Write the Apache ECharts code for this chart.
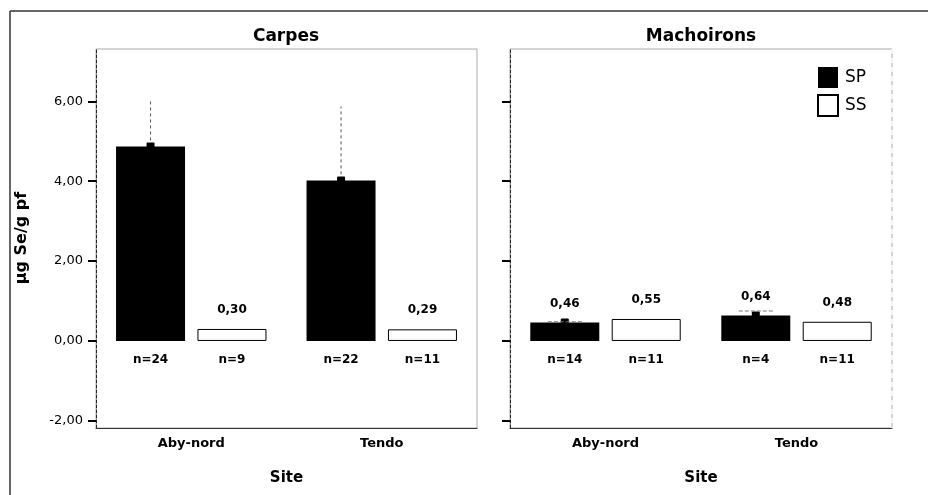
<!DOCTYPE html>
<html><head><meta charset="utf-8">
<script src="https://cdn.jsdelivr.net/npm/echarts@6/dist/echarts.min.js"></script>
<style>html,body{margin:0;padding:0;background:#fff}#c{width:928px;height:495px}</style>
</head><body><div id="c"></div>
<script>
const categories = ['Aby-nord', 'Tendo'];
const panelTitles = ['Carpes', 'Machoirons'];
const seriesNames = ['SP', 'SS'];
const carpesSP = [4.87, 4.02];
const carpesSS = [0.30, 0.29];
const machoironsSP = [0.46, 0.64];
const machoironsSS = [0.55, 0.48];
const carpesSPUpper = [6.05, 5.87];
const machoironsSPUpper = [0.48, 0.75];
const carpesSPn = [24, 22];
const carpesSSn = [9, 11];
const machoironsSPn = [14, 4];
const machoironsSSn = [11, 11];
const yTicks = [-2, 0, 2, 4, 6];
const yName = 'µg Se/g pf';
const xName = 'Site';

const FONT = 'DejaVu Sans';
const BAR_W = 69, GAP = 12.4;
const OFF = (BAR_W + GAP) / 2;
const fmt = v => v.toFixed(2).replace('.', ',');

const chart = echarts.init(document.getElementById('c'), null, {renderer: 'canvas'});

function grid(left, width) {
  return {left: left, top: 49, width: width, height: 379, show: true, borderColor: '#aaa', borderWidth: 1, backgroundColor: 'transparent'};
}
function xAxis(gi) {
  return {
    type: 'category', gridIndex: gi, data: categories,
    name: xName, nameLocation: 'middle', nameGap: 43,
    nameTextStyle: {fontFamily: FONT, fontSize: 15, fontWeight: 'bold', color: '#000'},
    axisLine: {onZero: false, lineStyle: {color: '#333', width: 1}},
    axisTick: {alignWithLabel: true, length: 5, lineStyle: {color: '#000', width: 3}},
    axisLabel: {fontFamily: FONT, fontSize: 13, fontWeight: 'bold', color: '#000', margin: 9},
    splitLine: {show: false}
  };
}
function yAxis(gi, showLabels) {
  return {
    type: 'value', gridIndex: gi, min: -2.18, max: 7.31,
    axisLine: {show: true, lineStyle: {color: '#222', width: 1, type: [3, 2]}},
    axisTick: {show: true, length: 8, customValues: yTicks, lineStyle: {color: '#000', width: 2}},
    axisLabel: {show: showLabels, customValues: yTicks, formatter: fmt, fontFamily: FONT, fontSize: 13, color: '#000', margin: 13},
    splitLine: {show: false}
  };
}
function barSeries(name, gi, data, showLabel) {
  const isSP = name === 'SP';
  return {
    type: 'bar', name: name, xAxisIndex: gi, yAxisIndex: gi, data: data,
    barWidth: BAR_W, barGap: '18%',
    itemStyle: isSP ? {color: '#000'} : {color: '#fff', borderColor: '#000', borderWidth: 1},
    label: {show: showLabel, position: 'top', distance: 13, formatter: p => fmt(p.value),
      fontFamily: FONT, fontSize: 12, fontWeight: 'bold', color: '#000'},
    emphasis: {disabled: true}, animation: false
  };
}
function nSeries(gi, counts, off) {
  return {
    type: 'custom', xAxisIndex: gi, yAxisIndex: gi, silent: true, animation: false,
    data: counts.map((n, i) => [i, n]),
    renderItem: (params, api) => {
      const p = api.coord([api.value(0), 0]);
      return {type: 'text', style: {x: p[0] + off, y: p[1] + 19, text: 'n=' + api.value(1),
        align: 'center', verticalAlign: 'middle', font: 'bold 12px "DejaVu Sans"', fill: '#000'}};
    }
  };
}
function errSeries(gi, means, uppers, off, capW) {
  return {
    type: 'custom', xAxisIndex: gi, yAxisIndex: gi, silent: true, animation: false, z: 5,
    data: means.map((m, i) => [i, m, uppers[i]]),
    renderItem: (params, api) => {
      const m = api.coord([api.value(0), api.value(1)]);
      const u = api.coord([api.value(0), api.value(2)]);
      const x = m[0] + off;
      const children = [
        {type: 'line', shape: {x1: x, y1: m[1], x2: x, y2: u[1]}, style: {stroke: '#555', lineWidth: 1, lineDash: [3, 3]}},
        {type: 'rect', shape: {x: x - 4, y: m[1] - 4, width: 8, height: 5, r: 1}, style: {fill: '#000'}}
      ];
      if (capW > 0) children.push({type: 'line', shape: {x1: x - capW / 2, y1: u[1], x2: x + capW / 2, y2: u[1]}, style: {stroke: '#777', lineWidth: 1, lineDash: [4, 2]}});
      return {type: 'group', children: children};
    }
  };
}

const option = {
  backgroundColor: '#fff',
  animation: false,
  textStyle: {fontFamily: FONT},
  grid: [grid(96, 381), grid(510, 382)],
  xAxis: [xAxis(0), xAxis(1)],
  yAxis: [yAxis(0, true), yAxis(1, false)],
  legend: {
    data: seriesNames, orient: 'vertical', left: 817, top: 67, padding: 0,
    itemWidth: 20, itemHeight: 21, itemGap: 6, icon: 'rect', selectedMode: false,
    textStyle: {fontFamily: FONT, fontSize: 17, color: '#000', padding: [0, 0, 0, 2]}
  },
  graphic: [
    {type: 'line', shape: {x1: 10, y1: 11, x2: 928, y2: 11}, style: {stroke: '#333', lineWidth: 1.5}, silent: true},
    {type: 'line', shape: {x1: 10, y1: 11, x2: 10, y2: 495}, style: {stroke: '#333', lineWidth: 1.5}, silent: true},
    {type: 'line', shape: {x1: 892, y1: 49, x2: 892, y2: 428}, style: {stroke: '#fff', lineWidth: 1.5, lineDash: [5, 4]}, silent: true, z: 100},
    {type: 'text', x: 286, y: 37, style: {text: panelTitles[0], align: 'center', verticalAlign: 'middle', font: 'bold 17px "DejaVu Sans"', fill: '#000'}, silent: true},
    {type: 'text', x: 701, y: 37, style: {text: panelTitles[1], align: 'center', verticalAlign: 'middle', font: 'bold 17px "DejaVu Sans"', fill: '#000'}, silent: true},
    {type: 'text', x: 22, y: 238, rotation: Math.PI / 2, style: {text: yName, align: 'center', verticalAlign: 'middle', font: 'bold 16px "DejaVu Sans"', fill: '#000'}, silent: true}
  ],
  series: [
    barSeries('SP', 0, carpesSP, false),
    barSeries('SS', 0, carpesSS, true),
    barSeries('SP', 1, machoironsSP, true),
    barSeries('SS', 1, machoironsSS, true),
    errSeries(0, carpesSP, carpesSPUpper, -OFF, 0),
    errSeries(1, machoironsSP, machoironsSPUpper, -OFF, 34),
    nSeries(0, carpesSPn, -OFF), nSeries(0, carpesSSn, OFF),
    nSeries(1, machoironsSPn, -OFF), nSeries(1, machoironsSSn, OFF)
  ]
};
chart.setOption(option);
</script></body></html>
